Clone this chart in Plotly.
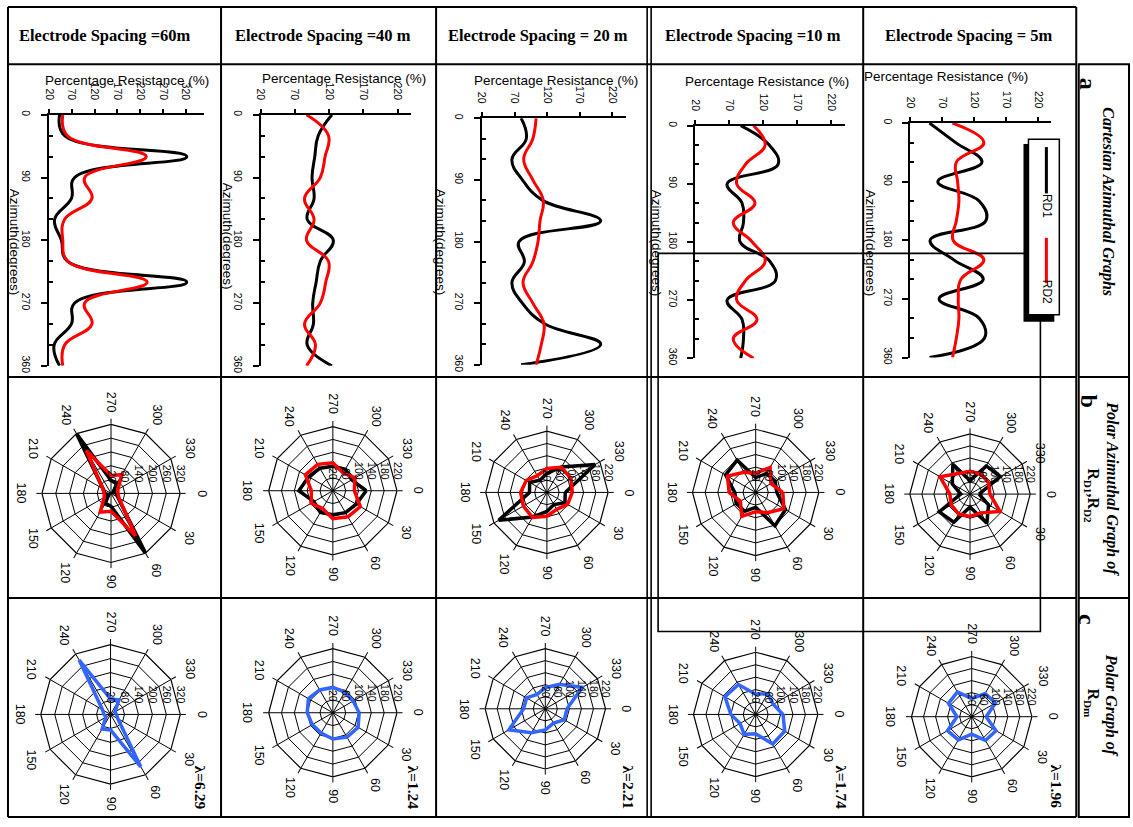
import math
import plotly.graph_objects as go

W, H = 1133, 827
SANS = "Liberation Sans, Arial, sans-serif"
SERIF = "Liberation Serif, Times New Roman, serif"

# ---------------- data ----------------
angles = [0, 30, 60, 90, 120, 150, 180, 210, 240, 270, 300, 330, 360]
spacing_headers = ["Electrode Spacing =60m", "Electrode Spacing =40 m", "Electrode Spacing = 20 m",
                   "Electrode Spacing =10 m", "Electrode Spacing = 5m"]
lambda_labels = ["λ=6.29", "λ=1.24", "λ=2.21", "λ=1.74", "λ=1.96"]

rd1_60m = [43, 54, 322, 76, 69, 32, 47, 60, 322, 76, 69, 31, 43]
rd2_60m = [50, 60, 233, 98, 114, 54, 50, 61, 235, 98, 114, 54, 50]
rdm_60m = [46, 56, 280, 87, 92, 43, 48, 60, 290, 87, 92, 42, 46]

rd1_40m = [124, 104, 99, 95, 98, 88, 126, 107, 101, 96, 97, 88, 124]
rd2_40m = [87, 119, 114, 107, 84, 98, 87, 119, 115, 107, 84, 100, 87]
rdm_40m = [102, 111, 108, 102, 93, 94, 100, 108, 102, 99, 94, 93, 102]

rd1_20m = [80, 88, 66, 82, 113, 202, 77, 85, 66, 82, 116, 202, 80]
rd2_20m = [103, 98, 84, 98, 114, 109, 106, 98, 83, 98, 115, 111, 103]
rdm_20m = [92, 93, 75, 90, 112, 160, 92, 92, 75, 90, 114, 162, 92]

rd1_10m = [87, 129, 142, 67, 89, 91, 86, 130, 138, 67, 89, 91, 87]
rd2_10m = [106, 123, 94, 81, 108, 76, 104, 123, 94, 81, 111, 76, 106]
rdm_10m = [108, 128, 130, 82, 94, 78, 100, 134, 131, 85, 97, 85, 108]

rd1_5m = [50, 91, 132, 63, 128, 138, 51, 88, 134, 65, 128, 136, 50]
rd2_5m = [86, 135, 92, 94, 96, 92, 87, 135, 99, 95, 96, 92, 86]
rdm_5m = [68, 113, 111, 78, 109, 113, 69, 109, 115, 80, 109, 111, 68]

x_ticks_60m = [20, 70, 120, 170, 220, 270, 320]
x_ticks = [20, 70, 120, 170, 220]
azimuth_ticks = [0, 90, 180, 270, 360]
azimuth_minor = [30, 60, 120, 150, 210, 240, 300, 330]
theta_ticks = [0, 30, 60, 90, 120, 150, 180, 210, 240, 270, 300, 330]
radial_ticks_60m = [20, 80, 140, 200, 260, 320]
radial_ticks = [20, 60, 100, 140, 180, 220]

rd1_sets = [rd1_60m, rd1_40m, rd1_20m, rd1_10m, rd1_5m]
rd2_sets = [rd2_60m, rd2_40m, rd2_20m, rd2_10m, rd2_5m]
rdm_sets = [rdm_60m, rdm_40m, rdm_20m, rdm_10m, rdm_5m]
xtick_sets = [x_ticks_60m, x_ticks, x_ticks, x_ticks, x_ticks]
rtick_sets = [radial_ticks_60m, radial_ticks, radial_ticks, radial_ticks, radial_ticks]
theta_cats = [str(t) for t in theta_ticks]
theta_labels = [str(a % 360) for a in angles]

# ---------------- geometry (pixels) ----------------
cart_geom = [(44.3, 200, 360, 112.3, 366.7),
             (256.7, 408.3, 240, 112.3, 366.7),
             (479, 623.3, 240, 115.7, 365.7),
             (693.3, 843.3, 240, 123.3, 359),
             (909.3, 1050.7, 240, 120.7, 358.3)]
polar_b_geom = [(106.5, 496, 70), (329.3, 493.3, 65), (544.3, 495, 62), (754, 495, 64), (969.3, 496.7, 61)]
polar_c_geom = [(106, 720, 70.7), (329.3, 718.3, 65), (542.7, 714.3, 61), (754, 720, 63), (971, 722.3, 61)]
header_pos = [(100, 32), (319, 32), (535, 32), (751, 32), (968, 32)]
xtitle_pos = [(123, 77.3), (340.5, 75.3), (553.3, 77.7), (765.3, 78.3), (945, 73.3)]
ytitle_pos = [(9, 242), (223, 235), (437, 241), (654, 242), (869, 242)]
lambda_pos = [(196.7, 794), (410.7, 794), (626.7, 794), (840, 794), (1056.7, 793)]


def fx(px):
    return px / W


def fy(py):
    return 1 - py / H


fig = go.Figure()
layout = dict(width=W, height=H, margin=dict(l=0, r=0, t=0, b=0),
              paper_bgcolor="white", plot_bgcolor="white", showlegend=False)
ann = []


def text(x, y, t, size, family=SANS, angle=0, color="black"):
    ann.append(dict(x=fx(x), y=fy(y), xref="paper", yref="paper", text=t, showarrow=False,
                    xanchor="center", yanchor="middle", textangle=angle,
                    font=dict(family=family, size=size, color=color)))


# ---------------- cartesian (row a) ----------------
for i in range(5):
    n = i + 1
    xa = "x" if n == 1 else f"x{n}"
    ya = "y" if n == 1 else f"y{n}"
    fig.add_trace(go.Scatter(x=rd1_sets[i], y=angles, mode="lines", name="RD1",
                             line=dict(color="black", width=3, shape="spline", smoothing=1.2),
                             xaxis=xa, yaxis=ya))
    fig.add_trace(go.Scatter(x=rd2_sets[i], y=angles, mode="lines", name="RD2",
                             line=dict(color="#ff0000", width=3, shape="spline", smoothing=1.2),
                             xaxis=xa, yaxis=ya))
    x20, xend, xmaxv, y0, y360 = cart_geom[i]
    suffix = "" if n == 1 else str(n)
    layout["xaxis" + suffix] = dict(
        domain=[fx(x20), fx(xend)], range=[20, xmaxv], side="top", anchor=ya,
        tickmode="array", tickvals=xtick_sets[i], tickangle=90,
        ticks="outside", ticklen=4, tickwidth=1.5, tickcolor="black",
        showline=True, linecolor="black", linewidth=2, showgrid=False, zeroline=False,
        tickfont=dict(family=SANS, size=10.5, color="black"), ticklabelstandoff=5,
        fixedrange=True)
    layout["yaxis" + suffix] = dict(
        domain=[fy(y360), fy(y0)], range=[360, 0], anchor=xa, side="left",
        tickmode="array", tickvals=azimuth_ticks, tickangle=90,
        ticks="outside", ticklen=6, tickwidth=1.5, tickcolor="black",
        minor=dict(tickmode="array", tickvals=azimuth_minor, ticks="inside", ticklen=4,
                   tickwidth=1.5, tickcolor="black", showgrid=False),
        showline=True, linecolor="black", linewidth=2, showgrid=False, zeroline=False,
        tickfont=dict(family=SANS, size=10.5, color="black"), ticklabelstandoff=6,
        fixedrange=True)


# ---------------- polar (rows b, c) ----------------
def polar_layout(cx, cy, R, rticks):
    return dict(
        domain=dict(x=[fx(cx - R), fx(cx + R)], y=[fy(cy + R), fy(cy - R)]),
        bgcolor="white", gridshape="linear",
        angularaxis=dict(type="category", categoryorder="array", categoryarray=theta_cats,
                         rotation=0, direction="clockwise",
                         showline=True, linecolor="black", linewidth=1.2,
                         showgrid=True, gridcolor="black", gridwidth=1,
                         ticks="outside", ticklen=5, tickcolor="black", tickwidth=1.2,
                         showticklabels=False),
        radialaxis=dict(range=[rticks[0], rticks[-1]], tickmode="array", tickvals=rticks,
                        showline=False, showgrid=True, gridcolor="black", gridwidth=1,
                        angle=5, side="counterclockwise", tickangle=90,
                        ticks="outside", ticklen=7, tickcolor="rgba(0,0,0,0)",
                        tickfont=dict(family=SANS, size=10.5, color="black")))


def angular_labels(cx, cy, R):
    for t in theta_ticks:
        a = math.radians(t)
        lab = str(t)
        half_len = len(lab) * 6.95 / 2
        ext = math.hypot(math.cos(a) * 8, math.sin(a) * half_len)
        d = R + 12.5 + ext
        text(cx + d * math.cos(a), cy + d * math.sin(a), lab, 12.5, angle=90)


for i in range(5):
    pb = "polar" if i == 0 else f"polar{i + 1}"
    pc = f"polar{i + 6}"
    fig.add_trace(go.Scatterpolar(r=rd1_sets[i], theta=theta_labels, mode="lines", name="RD1",
                                  line=dict(color="black", width=3.5), subplot=pb))
    fig.add_trace(go.Scatterpolar(r=rd2_sets[i], theta=theta_labels, mode="lines", name="RD2",
                                  line=dict(color="#ff0000", width=3.5), subplot=pb))
    fig.add_trace(go.Scatterpolar(r=rdm_sets[i], theta=theta_labels, mode="lines", name="RDm",
                                  line=dict(color="#3366ff", width=3.5), subplot=pc))
    layout[pb] = polar_layout(*polar_b_geom[i], rtick_sets[i])
    layout[pc] = polar_layout(*polar_c_geom[i], rtick_sets[i])
    angular_labels(*polar_b_geom[i])
    angular_labels(*polar_c_geom[i])

# ---------------- shapes (table, frames, legend) ----------------
shapes = []


def line(x0, y0, x1, y1, w=2, color="black"):
    shapes.append(dict(type="line", xref="paper", yref="paper", x0=fx(x0), y0=fy(y0),
                       x1=fx(x1), y1=fy(y1), line=dict(color=color, width=w), layer="above"))


def rect(x0, y0, x1, y1, w=2, fill=None, lc="black"):
    d = dict(type="rect", xref="paper", yref="paper", x0=fx(x0), y0=fy(y0),
             x1=fx(x1), y1=fy(y1), line=dict(color=lc, width=w), layer="above")
    if fill:
        d["fillcolor"] = fill
    shapes.append(d)


for xv in [3, 217, 433, 862, 1076]:
    line(xv, 3, xv, 824)
line(645, 3, 645, 824, w=1.6)
line(649, 3, 649, 824, w=1.6)
for yv in [3, 61, 378, 602, 824]:
    line(3, yv, 1076, yv)
rect(1078.5, 61, 1129, 824)
line(1078.5, 378, 1129, 378)
line(1078.5, 602, 1129, 602)
# stray frame
rect(656, 252.7, 1040, 636, w=1.6)
# legend box with shadow
rect(1023, 142, 1054, 322, w=0, fill="black", lc="black")
rect(1028, 137, 1059, 315, w=1.5, fill="white")
line(1046, 145, 1046, 192, w=3, color="black")
line(1046, 237, 1046, 283, w=3, color="#ff0000")

# ---------------- annotations ----------------
for i in range(5):
    text(*header_pos[i], "<b>" + spacing_headers[i] + "</b>", 16.5, SERIF)
    text(*xtitle_pos[i], "Percentage Resistance (%)", 13.5)
    text(*ytitle_pos[i], "Azimuth(degrees)", 13.5, angle=90)
    text(*lambda_pos[i], "<b>" + lambda_labels[i] + "</b>", 15.5, SERIF, angle=90)

text(1046, 205, "RD1", 12, angle=90)
text(1046, 292, "RD2", 12, angle=90)

text(1088, 81, "<b>a</b>", 24, SERIF, angle=90)
text(1108, 200, "<b><i>Cartesian Azimuthal Graphs</i></b>", 16, SERIF, angle=90)
text(1089, 402, "<b>b</b>", 24, SERIF, angle=90)
text(1111.7, 491.5, "<b><i>Polar Azimuthal Graph of</i></b>", 16, SERIF, angle=90)
text(1092, 498, "<b>R<sub>D1</sub>,R<sub>D2</sub></b>", 16, SERIF, angle=90)
text(1087.5, 624, "<b>c</b>", 24, SERIF, angle=90)
text(1111.7, 711, "<b><i>Polar Graph of</i></b>", 16, SERIF, angle=90)
text(1092, 709, "<b>R<sub>Dm</sub></b>", 16, SERIF, angle=90)

layout["shapes"] = shapes
layout["annotations"] = ann
fig.update_layout(**layout)
fig.write_html("out.html")
